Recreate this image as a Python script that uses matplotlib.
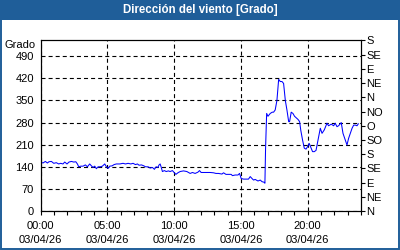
import matplotlib
matplotlib.use("Agg")
import matplotlib.pyplot as plt
from matplotlib.patches import Rectangle

plt.rcParams['font.family'] = ['Liberation Sans', 'DejaVu Sans']
plt.rcParams['lines.scale_dashes'] = False

title = "Dirección del viento [Grado]"
y_label = "Grado"
date_label = "03/04/26"
x_tick_hours = [0, 5, 10, 15, 20]
x_tick_times = ["00:00", "05:00", "10:00", "15:00", "20:00"]
y_ticks = [0, 70, 140, 210, 280, 350, 420, 490]
dir_labels = ["N", "NE", "E", "SE", "S", "SO", "O", "NO", "N", "NE", "E", "SE", "S"]

hours = [0.00, 0.17, 0.35, 0.50, 0.62, 0.80, 0.98, 1.17, 1.35, 1.50, 1.67, 1.80, 1.97,
         2.12, 2.30, 2.48, 2.63, 2.75, 2.85, 3.00, 3.17, 3.35, 3.50, 3.67, 3.80, 3.92,
         4.05, 4.17, 4.30, 4.47, 4.62, 4.80, 4.92, 5.05, 5.17, 5.35, 5.50, 5.67, 5.93,
         6.17, 6.35, 6.55, 6.75, 6.92, 7.10, 7.25, 7.37, 7.55, 7.73, 7.85, 8.05, 8.20,
         8.37, 8.52, 8.65, 8.78, 8.87, 8.95, 9.02, 9.12, 9.27, 9.40, 9.57, 9.70, 9.87,
         10.02, 10.13, 10.28, 10.45, 10.70, 10.95, 11.20, 11.37, 11.57, 11.78, 11.90,
         12.02, 12.32, 12.70, 12.95, 13.13, 13.32, 13.58, 13.70, 13.88, 14.07, 14.27,
         14.37, 14.57, 14.78, 14.90, 15.02, 15.20, 15.40, 15.57, 15.70, 15.83, 15.95,
         16.07, 16.28, 16.45, 16.58, 16.74, 16.80, 16.85, 16.93, 17.03, 17.20, 17.35,
         17.45, 17.57, 17.70, 17.83, 17.95, 18.08, 18.20, 18.33, 18.45, 18.58, 18.65,
         18.77, 18.90, 19.02, 19.15, 19.28, 19.40, 19.49, 19.62, 19.75, 19.88, 20.00,
         20.12, 20.25, 20.37, 20.50, 20.63, 20.78, 20.95, 21.08, 21.25, 21.45, 21.57,
         21.77, 21.95, 22.07, 22.20, 22.32, 22.52, 22.65, 22.82, 22.95, 23.07, 23.20,
         23.33, 23.45, 23.58, 23.70, 23.80]
degrees = [155, 152, 157, 152, 156, 157, 151, 153, 149, 151, 149, 155, 149,
           155, 157, 155, 156, 149, 140, 142, 142, 146, 140, 149, 143, 138,
           142, 134, 140, 140, 142, 149, 140, 135, 142, 143, 147, 149, 149,
           151, 149, 151, 149, 151, 147, 149, 145, 146, 143, 140, 140, 136,
           138, 132, 140, 138, 146, 149, 140, 125, 128, 125, 127, 125, 128,
           121, 116, 121, 125, 127, 125, 119, 122, 119, 123, 128,
           122, 122, 122, 121, 119, 119, 117, 121, 116, 116, 116,
           112, 114, 114, 119, 103, 101, 101, 101, 109, 103, 98,
           100, 95, 98, 93, 91, 88, 199, 309, 300, 309, 313,
           313, 320, 350, 417, 410, 410, 404, 350, 320, 283, 283,
           313, 309, 300, 295, 290, 283, 255, 225, 199, 196, 204,
           214, 200, 188, 188, 192, 225, 262, 246, 257, 278, 270,
           275, 270, 278, 267, 270, 280, 246, 225, 209, 230, 246,
           262, 272, 272, 270, 276]

W, H = 400, 250
fig = plt.figure(figsize=(4, 2.5), dpi=100, facecolor='white')
blue = '#1f5e99'
fig.patches.append(Rectangle((0, 1 - 20 / H), 1, 20 / H, transform=fig.transFigure,
                             facecolor=blue, edgecolor='none', zorder=0))
fig.patches.append(Rectangle((0.5 / W, 1 / H), 1 - 1.5 / W, 1 - 1.5 / H, transform=fig.transFigure,
                             facecolor='none', edgecolor=blue, linewidth=1.4, zorder=0))
fig.text(0.5, 1 - 10.5 / H, title, color='white', fontweight='bold', fontsize=8.3,
         ha='center', va='center')

l, r, b, t = 40.7, 361.0, 211.0, 40.5
ax = fig.add_axes([l / W, (H - b) / H, (r - l) / W, (b - t) / H])
ax.plot(hours, degrees, color='#0000ff', linewidth=0.75)
ax.set_xlim(0, 24)
ax.set_ylim(0, 540)

dash = (0, (2.9, 2.2))
ax.set_yticks(y_ticks)
ax.set_yticklabels([str(v) for v in y_ticks])
ax.set_xticks(x_tick_hours)
ax.set_xticklabels([f"{tm}\n{date_label}" for tm in x_tick_times], linespacing=1.5)
ax.set_xticks(range(0, 25), minor=True)
ax.tick_params(axis='y', which='both', length=0, pad=5, labelsize=8)
ax.tick_params(axis='x', which='both', length=3, width=0.8, direction='out', pad=4, labelsize=8)
ax.grid(True, which='major', color='black', linestyle=dash, linewidth=0.8)
for s in ax.spines.values():
    s.set_linewidth(0.8)
ax.text(-0.015, 1 - 5 / (b - t), y_label, transform=ax.transAxes, ha='right', va='center', fontsize=8)

ax2 = ax.twinx()
ax2.set_ylim(0, 540)
ax2.set_yticks(range(0, 541, 45))
ax2.set_yticklabels(dir_labels)
ax2.tick_params(axis='y', length=3, width=0.8, pad=1, labelsize=8)
for s in ax2.spines.values():
    s.set_linewidth(0.8)

fig.savefig('out.png', dpi=100, facecolor='white')
